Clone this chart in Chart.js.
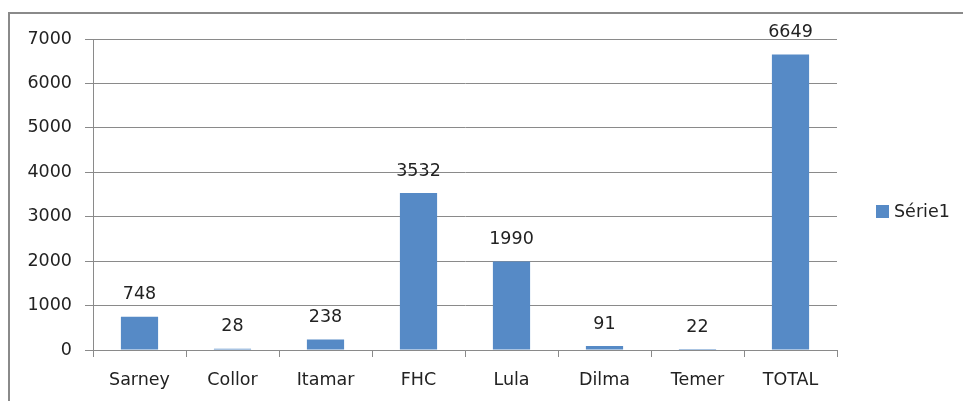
<!DOCTYPE html>
<html><head><meta charset="utf-8">
<script src="https://cdn.jsdelivr.net/npm/chart.js@4"></script>
<style>html,body{margin:0;padding:0;background:#fff}#wrap{width:963px;height:401px;position:relative}</style>
</head><body><div id="wrap"><canvas id="c"></canvas></div>
<script>
const categories = ["Sarney","Collor","Itamar","FHC","Lula","Dilma","Temer","TOTAL"];
const values = [748,28,238,3532,1990,91,22,6649];
const yTicks = [0,1000,2000,3000,4000,5000,6000,7000];
const seriesName = "Série1";
const barColor = "#568AC6";
const FONT = "'DejaVu Sans', sans-serif";
const FS = 17.5;

const extras = {
  id:'extras',
  beforeDraw(chart){
    const ctx=chart.ctx;
    ctx.save();
    ctx.fillStyle='#fff';ctx.fillRect(0,0,chart.width,chart.height);
    ctx.strokeStyle='#8a8a8a';ctx.lineWidth=2;
    ctx.strokeRect(9,13,2000,2000);
    ctx.restore();
  },
  afterDatasetsDraw(chart){
    const ctx=chart.ctx;
    const meta=chart.getDatasetMeta(0);
    ctx.save();
    ctx.font=FS+"px "+FONT;ctx.fillStyle='#222';ctx.textAlign='center';ctx.textBaseline='middle';
    meta.data.forEach((bar,i)=>{
      ctx.fillText(String(values[i]),bar.x,bar.y-22);
    });
    const ds=chart.data.datasets[0];
    ctx.fillStyle=ds.backgroundColor;
    ctx.fillRect(876,205,13,13);
    ctx.fillStyle='#222';ctx.textAlign='left';
    ctx.fillText(ds.label,894,212);
    ctx.restore();
  }
};

new Chart(document.getElementById('c'),{
  type:'bar',
  data:{labels:categories,datasets:[{label:seriesName,data:values,backgroundColor:barColor,barPercentage:0.4,categoryPercentage:1}]},
  options:{
    responsive:true,maintainAspectRatio:false,animation:false,
    layout:{padding:{left:0,top:39,right:126,bottom:0}},
    plugins:{legend:{display:false},tooltip:{enabled:false}},
    scales:{
      x:{
        grid:{drawOnChartArea:false,drawTicks:true,tickLength:7,color:'#8a8a8a',offset:true},
        border:{display:true,color:'#8a8a8a'},
        ticks:{font:{family:FONT,size:FS},color:'#222',padding:13,maxRotation:0},
        afterFit(s){s.height=51;}
      },
      y:{
        min:0,max:7000,
        afterBuildTicks(s){s.ticks=yTicks.map(v=>({value:v}));},
        grid:{color:'#8a8a8a',tickLength:8},
        border:{display:true,color:'#8a8a8a'},
        ticks:{font:{family:FONT,size:FS},color:'#222',padding:13,callback:(v)=>String(v)},
        afterFit(s){s.width=93;}
      }
    }
  },
  plugins:[extras]
});
</script></body></html>
